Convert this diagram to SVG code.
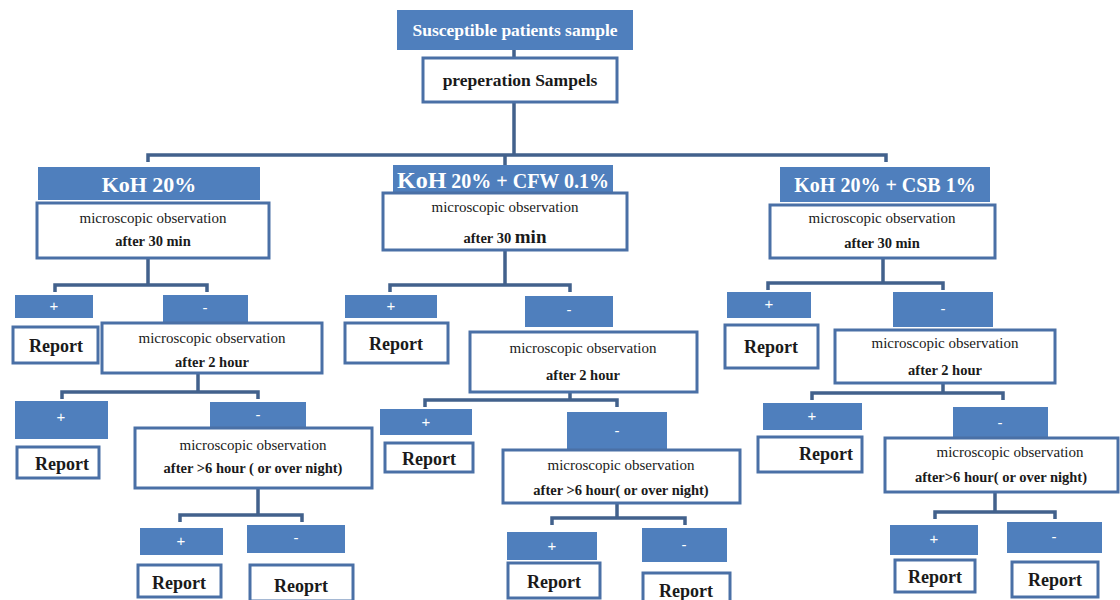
<svg xmlns="http://www.w3.org/2000/svg" width="1120" height="600" viewBox="0 0 1120 600">
<style>
.bl{fill:#4f7fbd;}
.wb{fill:#ffffff;stroke:#4a70a6;stroke-width:3;}
.c{fill:none;stroke:#42618c;stroke-width:3.5;}
.t{font-family:"Liberation Serif",serif;fill:#1a1a1a;text-anchor:middle;}
.mo{font-size:15px;}
.b{font-weight:bold;}
.af{font-size:14.5px;font-weight:bold;}
.rp{font-size:18px;font-weight:bold;}
.pm{font-family:"Liberation Sans",sans-serif;fill:#ffffff;font-size:15px;text-anchor:middle;}
.hd{font-family:"Liberation Serif",serif;fill:#ffffff;font-weight:bold;text-anchor:middle;}
</style>
<rect width="1120" height="600" fill="#ffffff"/>
<g id="connectors">
<path class="c" d="M514 50V155M148 162V155H886V162M505 155V165"/>
<path class="c" d="M148 258V285M55 292V285H207V292"/>
<path class="c" d="M198 373V392M62 399V392H258V399"/>
<path class="c" d="M258 488V515M180 522V515H302V522"/>
<path class="c" d="M505 250V285M390 292V285H570V292"/>
<path class="c" d="M570 392V400M425 407V400H617V407"/>
<path class="c" d="M617 503V518M552 525V518H685V525"/>
<path class="c" d="M883 258V283M768 290V283H943V290"/>
<path class="c" d="M943 383V393M812 400V393H1003V400"/>
<path class="c" d="M995 492V512M935 519V512H1055V519"/>
</g>
<g id="n-title"><rect class="bl" x="397" y="10" width="236" height="40"/><text class="hd" x="515" y="36" font-size="17.5">Susceptible patients sample</text></g>
<g id="n-prep"><rect class="wb" x="423" y="58" width="194" height="44"/><text class="t b" x="520" y="86" font-size="17.5">preperation Sampels</text></g>

<g id="n-koh"><rect class="bl" x="38" y="167" width="222" height="33"/><text class="hd" x="149" y="192" font-size="22">KoH 20%</text></g>
<g id="n-l30"><rect class="wb" x="37" y="203" width="232" height="55"/><text class="t mo" x="153" y="223">microscopic observation</text><text class="t af" x="153" y="246">after 30 min</text></g>
<g id="n-lp1"><rect class="bl" x="15" y="295" width="78" height="23"/><text class="pm" x="54" y="311">+</text></g>
<g id="n-lm1"><rect class="bl" x="163" y="295" width="85" height="28"/><text class="pm" x="205" y="313">-</text></g>
<g id="n-lr1"><rect class="wb" x="13" y="327" width="85" height="36"/><text class="t rp" x="56" y="352">Report</text></g>
<g id="n-l2h"><rect class="wb" x="102" y="323" width="220" height="50"/><text class="t mo" x="212" y="343">microscopic observation</text><text class="t af" x="212" y="367">after 2 hour</text></g>
<g id="n-lp2"><rect class="bl" x="15" y="401" width="93" height="38"/><text class="pm" x="61" y="422">+</text></g>
<g id="n-lr2"><rect class="wb" x="17" y="447" width="82" height="31"/><text class="t rp" x="62" y="470">Report</text></g>
<g id="n-lm2"><rect class="bl" x="210" y="402" width="96" height="28"/><text class="pm" x="258" y="420">-</text></g>
<g id="n-l6h"><rect class="wb" x="135" y="428" width="237" height="60"/><text class="t mo" x="253" y="450">microscopic observation</text><text class="t af" x="253" y="473">after &gt;6 hour ( or over night)</text></g>
<g id="n-lp3"><rect class="bl" x="140" y="528" width="83" height="27"/><text class="pm" x="181" y="546">+</text></g>
<g id="n-lm3"><rect class="bl" x="247" y="525" width="98" height="28"/><text class="pm" x="296" y="543">-</text></g>
<g id="n-lr3"><rect class="wb" x="138" y="565" width="83" height="32"/><text class="t rp" x="179" y="589">Report</text></g>
<g id="n-lr4"><rect class="wb" x="250" y="565" width="103" height="36"/><text class="t rp" x="301" y="592">Reoprt</text></g>

<g id="n-cfw"><rect class="bl" x="393" y="165" width="220" height="28"/><text class="hd" x="503" y="188" font-size="20"><tspan font-size="24">KoH</tspan> 20% + CFW 0.1%</text></g>
<g id="n-m30"><rect class="wb" x="383" y="193" width="244" height="57"/><text class="t mo" x="505" y="212">microscopic observation</text><text class="t af" x="505" y="243">after 30 <tspan font-size="19">min</tspan></text></g>
<g id="n-mp1"><rect class="bl" x="345" y="295" width="92" height="23"/><text class="pm" x="391" y="311">+</text></g>
<g id="n-mm1"><rect class="bl" x="525" y="296" width="88" height="31"/><text class="pm" x="569" y="315">-</text></g>
<g id="n-mr1"><rect class="wb" x="345" y="323" width="103" height="40"/><text class="t rp" x="396" y="350">Report</text></g>
<g id="n-m2h"><rect class="wb" x="470" y="332" width="227" height="60"/><text class="t mo" x="583" y="353">microscopic observation</text><text class="t af" x="583" y="380">after 2 hour</text></g>
<g id="n-mp2"><rect class="bl" x="380" y="409" width="92" height="26"/><text class="pm" x="426" y="427">+</text></g>
<g id="n-mr2"><rect class="wb" x="385" y="443" width="88" height="29"/><text class="t rp" x="429" y="465">Report</text></g>
<g id="n-mm2"><rect class="bl" x="567" y="412" width="100" height="40"/><text class="pm" x="617" y="436">-</text></g>
<g id="n-m6h"><rect class="wb" x="503" y="450" width="237" height="53"/><text class="t mo" x="621" y="470">microscopic observation</text><text class="t af" x="621" y="495">after &gt;6 hour( or over night)</text></g>
<g id="n-mp3"><rect class="bl" x="507" y="532" width="90" height="28"/><text class="pm" x="552" y="551">+</text></g>
<g id="n-mm3"><rect class="bl" x="642" y="528" width="85" height="34"/><text class="pm" x="684" y="550">-</text></g>
<g id="n-mr3"><rect class="wb" x="508" y="563" width="92" height="35"/><text class="t rp" x="554" y="588">Report</text></g>
<g id="n-mr4"><rect class="wb" x="643" y="573" width="87" height="29"/><text class="t rp" x="686" y="597">Report</text></g>

<g id="n-csb"><rect class="bl" x="780" y="167" width="210" height="35"/><text class="hd" x="885" y="192" font-size="20">KoH 20% + CSB 1%</text></g>
<g id="n-r30"><rect class="wb" x="770" y="205" width="225" height="53"/><text class="t mo" x="882" y="223">microscopic observation</text><text class="t af" x="882" y="248">after 30 min</text></g>
<g id="n-rp1"><rect class="bl" x="727" y="292" width="84" height="26"/><text class="pm" x="769" y="309">+</text></g>
<g id="n-rm1"><rect class="bl" x="893" y="292" width="100" height="35"/><text class="pm" x="943" y="314">-</text></g>
<g id="n-rr1"><rect class="wb" x="725" y="325" width="93" height="43"/><text class="t rp" x="771" y="353">Report</text></g>
<g id="n-r2h"><rect class="wb" x="835" y="330" width="220" height="53"/><text class="t mo" x="945" y="348">microscopic observation</text><text class="t af" x="945" y="375">after 2 hour</text></g>
<g id="n-rp2"><rect class="bl" x="763" y="403" width="99" height="27"/><text class="pm" x="812" y="421">+</text></g>
<g id="n-rr2"><rect class="wb" x="758" y="437" width="104" height="35"/><text class="t rp" x="826" y="460">Report</text></g>
<g id="n-rm2"><rect class="bl" x="953" y="407" width="95" height="33"/><text class="pm" x="1000" y="428">-</text></g>
<g id="n-r6h"><rect class="wb" x="885" y="438" width="233" height="54"/><text class="t mo" x="1010" y="457">microscopic observation</text><text class="t af" x="1001" y="482">after&gt;6 hour( or over night)</text></g>
<g id="n-rp3"><rect class="bl" x="890" y="525" width="88" height="30"/><text class="pm" x="934" y="544">+</text></g>
<g id="n-rm3"><rect class="bl" x="1007" y="522" width="95" height="31"/><text class="pm" x="1054" y="542">-</text></g>
<g id="n-rr3"><rect class="wb" x="895" y="560" width="80" height="32"/><text class="t rp" x="935" y="583">Report</text></g>
<g id="n-rr4"><rect class="wb" x="1012" y="562" width="86" height="35"/><text class="t rp" x="1055" y="586">Report</text></g>
</svg>
